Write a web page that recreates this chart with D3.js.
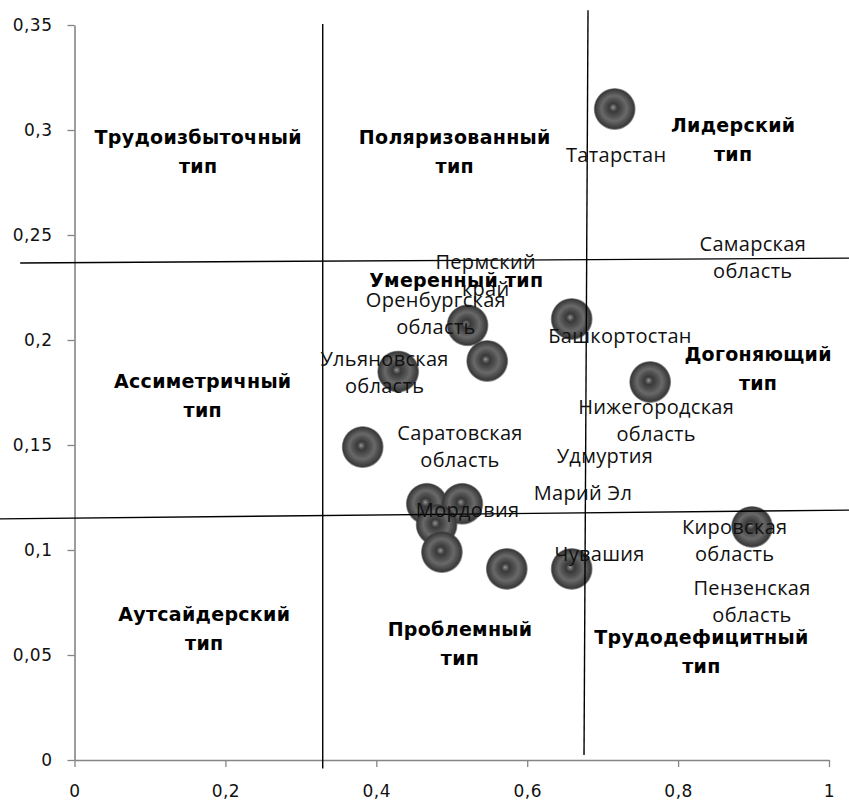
<!DOCTYPE html>
<html><head><meta charset="utf-8">
<script src="https://cdn.jsdelivr.net/npm/d3@7/dist/d3.min.js"></script>
<style>body{margin:0;background:#fff}</style>
</head><body><svg id="chart" width="849" height="801"></svg>
<script>
// ---- data ----
const xValues = [0.716, 0.521, 0.547, 0.659, 0.763, 0.429, 0.382, 0.467, 0.514, 0.480, 0.487, 0.573, 0.659, 0.898];
const yValues = [0.310, 0.207, 0.190, 0.210, 0.180, 0.185, 0.149, 0.122, 0.122, 0.112, 0.099, 0.091, 0.091, 0.111];

const regionNames = ["Татарстан", "Самарская|область", "Пермский|край", "Оренбургская|область", "Башкортостан",
  "Ульяновская|область", "Нижегородская|область", "Саратовская|область", "Удмуртия", "Марий Эл",
  "Мордовия", "Чувашия", "Кировская|область", "Пензенская|область"];
const regionLabelX = [0.718, 0.899, 0.545, 0.479, 0.723, 0.411, 0.771, 0.511, 0.703, 0.674, 0.521, 0.696, 0.875, 0.898];
const regionLabelY = [0.287, 0.245, 0.236, 0.218, 0.201, 0.190, 0.167, 0.155, 0.144, 0.126, 0.118, 0.097, 0.110, 0.081];

const typeNames = ["Трудоизбыточный|тип", "Поляризованный|тип", "Лидерский|тип", "Умеренный тип",
  "Ассиметричный|тип", "Догоняющий|тип", "Аутсайдерский|тип", "Проблемный|тип", "Трудодефицитный|тип"];
const typeLabelX = [0.164, 0.504, 0.873, 0.506, 0.170, 0.906, 0.172, 0.511, 0.831];
const typeLabelY = [0.296, 0.296, 0.302, 0.228, 0.180, 0.193, 0.069, 0.062, 0.058];

// quadrant divider lines [x1, y1, x2, y2] in data units
const dividerLines = [
  [0.329, 0.3505, 0.329, -0.004],
  [0.6806, 0.357, 0.6753, 0.0024],
  [-0.072, 0.2367, 1.0265, 0.239],
  [-0.099, 0.1148, 1.0265, 0.119]
];

const xTicks = [0, 0.2, 0.4, 0.6, 0.8, 1];
const yTicks = [0, 0.05, 0.1, 0.15, 0.2, 0.25, 0.3, 0.35];

// ---- layout ----
const svg = d3.select("#chart");
const mLeft = 74.5, mRight = 829, mTop = 25, mBottom = 760;
const x = d3.scaleLinear().domain([0, 1]).range([mLeft, mRight]);
const y = d3.scaleLinear().domain([0, 0.35]).range([mBottom, mTop]);
const fmt = v => String(v).replace(".", ",");

// gradient for balls
const defs = svg.append("defs");
const g = defs.append("radialGradient").attr("id", "ball")
  .attr("cx", "50%").attr("cy", "50%").attr("r", "50%").attr("fx", "46%").attr("fy", "46%");
[[0, "#a0a0a0", 1], [0.07, "#6c6c6c", 1], [0.2, "#393939", 1], [0.4, "#4f4f4f", 1],
 [0.6, "#696969", 1], [0.8, "#4b4b4b", 1], [0.93, "#393939", 1], [1, "#444444", 0.4]]
  .forEach(s => g.append("stop").attr("offset", s[0]).attr("stop-color", s[1]).attr("stop-opacity", s[2]));

// axes
const axisColor = "#858585";
const xAxis = svg.append("g").attr("transform", `translate(0,${mBottom})`)
  .call(d3.axisBottom(x).tickValues(xTicks).tickFormat(fmt).tickSize(7).tickSizeOuter(0).tickPadding(18));
const yAxis = svg.append("g").attr("transform", `translate(${mLeft},0)`)
  .call(d3.axisLeft(y).tickValues(yTicks).tickFormat(fmt).tickSize(7).tickSizeOuter(0).tickPadding(15));
[xAxis, yAxis].forEach(a => {
  a.select(".domain").attr("stroke", axisColor).attr("stroke-width", 1.6);
  a.selectAll(".tick line").attr("stroke", axisColor).attr("stroke-width", 1.3);
  a.selectAll(".tick text").attr("fill", "#111").style("font-family", "'DejaVu Sans', sans-serif")
    .style("font-size", "17px").style("letter-spacing", "0.5px");
});

// balls
const pts = xValues.map((v, i) => ({x: v, y: yValues[i]}));
svg.append("g").selectAll("circle").data(pts).join("circle")
  .attr("cx", d => x(d.x)).attr("cy", d => y(d.y)).attr("r", 21)
  .attr("fill", "url(#ball)");

// divider lines
svg.append("g").selectAll("line").data(dividerLines).join("line")
  .attr("x1", d => x(d[0])).attr("y1", d => y(d[1]))
  .attr("x2", d => x(d[2])).attr("y2", d => y(d[3]))
  .attr("stroke", "#000").attr("stroke-width", 1.4);

// labels
function multiText(sel, names, xs, ys, lh) {
  names.forEach((n, i) => {
    const t = sel.append("text").attr("x", x(xs[i])).attr("y", y(ys[i]))
      .attr("text-anchor", "middle").attr("dominant-baseline", "middle");
    n.split("|").forEach((line, j) => {
      t.append("tspan").attr("x", x(xs[i])).attr("dy", j === 0 ? 0 : lh).text(line);
    });
  });
}
const rl = svg.append("g").style("font-family", "'Open Sans', sans-serif").style("font-size", "20px")
  .style("letter-spacing", "0.3px").attr("fill", "#111");
multiText(rl, regionNames, regionLabelX, regionLabelY, 27);

const tl = svg.append("g").style("font-family", "'DejaVu Sans', sans-serif").style("font-size", "19px")
  .style("letter-spacing", "0.3px").style("font-weight", "bold").attr("fill", "#000");
multiText(tl, typeNames, typeLabelX, typeLabelY, 29);
</script></body></html>
